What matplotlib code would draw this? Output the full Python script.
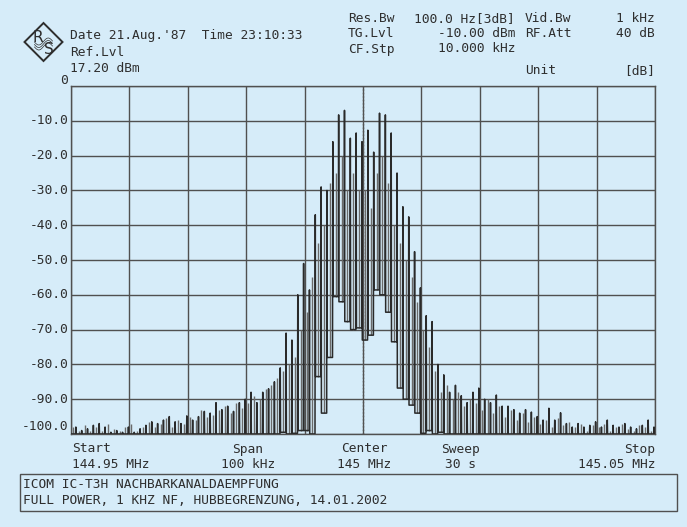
import matplotlib
matplotlib.use("Agg")
import matplotlib.pyplot as plt
from matplotlib.patches import Polygon, Rectangle
import numpy as np

# ---------------- data ----------------
line_offsets_khz = list(range(-50, 51))          # spectral lines, 1 kHz spacing
carrier_shift_khz = -0.17
peak_db = [
    -99, -98, -99, -98.5, -97.5, -97, -98, -99.5, -99, -99.5,      # -50..-41
    -98, -99.5, -98.5, -97.5, -96.5, -97, -96, -95, -96.5, -97,    # -40..-31
    -94.8, -96, -95, -93.5, -94, -91, -93, -92, -93.5, -91,        # -30..-21
    -90, -88, -91, -88, -87, -85, -81, -71, -73, -60,              # -20..-11
    -51, -58.6, -37, -29, -30, -16, -8.3, -7, -15, -13.5,          # -10..-1
    -16,                                                           # 0
    -12.7, -19, -7.8, -8.3, -13.5, -25, -34.7, -37.6, -47.6, -58,  # 1..10
    -66, -67.7, -80, -83, -88, -86, -89, -91, -88, -86.8,          # 11..20
    -90, -91, -88.8, -92, -92, -93, -94, -93, -93.7, -95,          # 21..30
    -96, -92.6, -96, -93.9, -97, -98, -97, -98, -97.5, -96.5,      # 31..40
    -98, -96, -97.5, -98, -97, -98, -98.5, -97.5, -96, -98,        # 41..50
]
# trace floor between line k and line k+1 (k = -50..49)
valley_db = (
    [-100] * 36 +                                                  # -50..-15
    [-99.5, -100, -99.8, -99, -99] +                               # -14..-10
    [-100, -83.5, -94, -78, -60.5, -62, -67.7, -70, -69.5] +       # -9..-1
    [-73, -71.6, -58.6, -60, -65, -73.5, -86.8, -90, -91.7, -94] + # 0..9
    [-99.8, -99, -100, -99.5, -100] +                              # 10..14
    [-100] * 35                                                    # 15..49
)
# weaker secondary lines midway between the main lines (k = -50..49)
mid_db = [
    -98, -99, -97.5, -99, -98, -99, -97, -98.5, -99, -98,          # -50..-41
    -97, -99, -98, -96.5, -98, -97, -95.5, -98, -96, -97,          # -40..-31
    -95, -96, -93, -95, -94.5, -93, -92, -94, -91, -92.5,          # -30..-21
    -91, -89, -90, -87, -86, -84, -82, -80, -78, -70,              # -20..-11
    -65, -55, -45, -40, -28, -25, -20, -30, -25, -30,              # -10..-1
    -30, -35, -25, -20, -28, -40, -45, -50, -55, -62,              # 0..9
    -70, -75, -82, -88, -86, -90, -88, -92, -90, -91,              # 10..19
    -93, -90, -94, -92, -95, -93, -96, -94, -96.5, -95,            # 20..29
    -97, -96, -98, -95.5, -97.5, -96.5, -98, -97, -99, -97.5,      # 30..39
    -98, -97, -99, -98, -97, -98.5, -99, -97.5, -98, -99,          # 40..49
]
y_ticks = [0, -10, -20, -30, -40, -50, -60, -70, -80, -90, -100]
y_tick_labels = ["0", "-10.0", "-20.0", "-30.0", "-40.0", "-50.0",
                 "-60.0", "-70.0", "-80.0", "-90.0", "-100.0"]

header_left = ["Date 21.Aug.'87  Time 23:10:33", "Ref.Lvl", "17.20 dBm"]
header_names = ["Res.Bw", "TG.Lvl", "CF.Stp"]
header_values = ["100.0 Hz[3dB]", "-10.00 dBm", "10.000 kHz"]
header_names2 = ["Vid.Bw", "RF.Att", "Unit"]
header_values2 = ["1 kHz", "40 dB", "[dB]"]
footer_titles = ["Start", "Span", "Center", "Sweep", "Stop"]
footer_values = ["144.95 MHz", "100 kHz", "145 MHz", "30 s", "145.05 MHz"]
comment_lines = ["ICOM IC-T3H NACHBARKANALDAEMPFUNG",
                 "FULL POWER, 1 KHZ NF, HUBBEGRENZUNG, 14.01.2002"]

# ---------------- figure ----------------
W, H = 687, 527
BG = "#d6ecf9"
INK = "#2e2e2e"
FONT = "DejaVu Sans Mono"
FS = 9.3

fig = plt.figure(figsize=(W / 100, H / 100), dpi=100, facecolor=BG)

def fx(x):
    return x / W

def fy(y):
    return 1 - y / H

L, R, T, B = 71, 655, 86, 434
ax = fig.add_axes([fx(L), fy(B), fx(R) - fx(L), fy(T) - fy(B)], facecolor=BG)
ax.set_xlim(-50, 50)
ax.set_ylim(-100, 0)

# main trace: narrow spike at each line, floor level held between lines
xs, ys = [], []
for i, k in enumerate(line_offsets_khz):
    xc = k + carrier_shift_khz
    vl = valley_db[i - 1] if i > 0 else valley_db[0]
    vr = valley_db[i] if i < len(valley_db) else valley_db[-1]
    xs += [xc - 0.05, xc, xc + 0.05]
    ys += [vl, peak_db[i], vr]
xs = np.array(xs)
ys = np.clip(np.array(ys), -100, 0)

# secondary (weaker) lines midway
mx = np.array(line_offsets_khz[:-1]) + carrier_shift_khz + 0.5
mlo = np.array(valley_db, dtype=float)
mhi = np.maximum(np.array(mid_db, dtype=float), mlo)

# grid
for gx in range(-50, 51, 10):
    ax.axvline(gx, color="#505050", lw=1.0, zorder=1)
for gy in y_ticks:
    ax.axhline(gy, color="#505050", lw=1.0, zorder=1)
ax.axvline(0, color="#555555", lw=1.0, ls=(0, (1, 1.5)), zorder=1.5)

ax.vlines(mx, mlo, mhi, color="#6a6a6a", lw=1.0, zorder=2.5)
ax.plot(xs, ys, color="#2a2a2a", lw=1.1, zorder=3)

for s in ax.spines.values():
    s.set_color("#505050")
    s.set_linewidth(1.0)
ax.set_xticks([])
ax.set_yticks([])

# y labels
for v, lab in zip(y_ticks, y_tick_labels):
    yy = v
    if v == 0:
        yy = 1.5
    if v == -100:
        yy = -97.8
    ax.text(-0.005, yy, lab, transform=ax.get_yaxis_transform(), ha="right",
            va="center", fontsize=FS, family=FONT, color=INK)

def ftext(x, y, s, ha="left"):
    fig.text(fx(x), fy(y), s, ha=ha, va="center", fontsize=FS, family=FONT, color=INK)

# header left
ftext(70, 36, header_left[0])
ftext(70, 52, header_left[1])
ftext(70, 68, header_left[2])
# header right
for j, yy in enumerate([19, 34, 49]):
    ftext(348, yy, header_names[j])
    ftext(515, yy, header_values[j], ha="right")
for j, yy in enumerate([19, 34, 71]):
    ftext(525, yy, header_names2[j])
    ftext(655, yy, header_values2[j], ha="right")

# logo (R&S diamond)
cx, cy, r = 43.5, 42, 19
dia = Polygon([(fx(cx), fy(cy - r)), (fx(cx + r), fy(cy)), (fx(cx), fy(cy + r)), (fx(cx - r), fy(cy))],
              closed=True, fill=False, edgecolor=INK, lw=1.4, transform=fig.transFigure)
fig.add_artist(dia)
t = np.linspace(-1, 1, 40)
for off in (-2.5, 0, 2.5):
    lx = cx + t * 9
    ly = cy + 2 + off - np.sin(t * 3.0) * 3.5
    fig.add_artist(plt.Line2D([fx(p) for p in lx], [fy(q) for q in ly],
                              color=INK, lw=0.5, transform=fig.transFigure))
fig.text(fx(38), fy(37), "R", ha="center", va="center", fontsize=11, family="DejaVu Sans", color=INK)
fig.text(fx(49), fy(49), "S", ha="center", va="center", fontsize=11, family="DejaVu Sans", color=INK)

# footer
ftext(72, 449, footer_titles[0])
ftext(72, 465, footer_values[0])
ftext(248, 449, footer_titles[1], ha="center")
ftext(248, 465, footer_values[1], ha="center")
ftext(364, 449, footer_titles[2], ha="center")
ftext(364, 465, footer_values[2], ha="center")
ftext(441, 449, footer_titles[3])
ftext(445, 465, footer_values[3])
ftext(655, 449, footer_titles[4], ha="right")
ftext(655, 465, footer_values[4], ha="right")

box = Rectangle((fx(20), fy(511)), fx(677) - fx(20), fy(474) - fy(511), fill=False,
                edgecolor="#505050", lw=1.0, transform=fig.transFigure)
fig.add_artist(box)
ftext(23, 484, comment_lines[0])
ftext(23, 501, comment_lines[1])

fig.savefig("out.png", dpi=100, facecolor=BG)
